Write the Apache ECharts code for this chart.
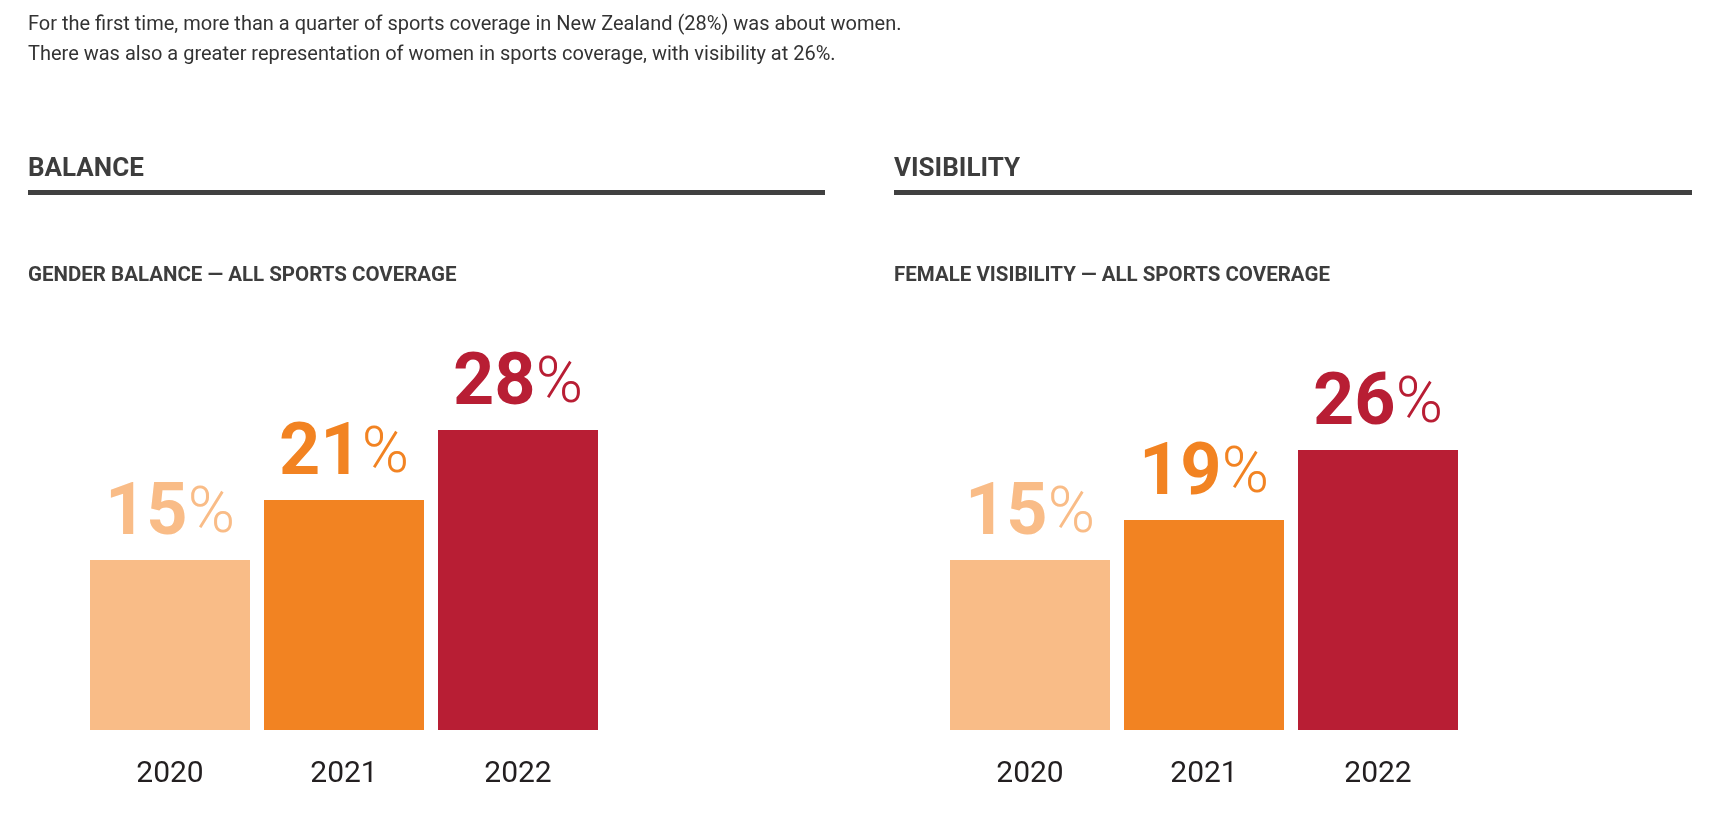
<!DOCTYPE html>
<html>
<head>
<meta charset="utf-8">
<title>Sports coverage</title>
<script src="https://cdn.jsdelivr.net/npm/echarts@6/dist/echarts.min.js"></script>
<style>
	html, body { margin: 0; padding: 0; background: #fff; }
	#chart { width: 1734px; height: 826px; }
</style>
</head>
<body>
<div id="chart"></div>
<script>
/**************************************数据********************************************/
var years = ['2020', '2021', '2022'];
var balanceValues = [15, 21, 28];		//Gender balance
var visibilityValues = [15, 19, 26];	//Female visibility
var barColors = ['#F9BC87', '#F28322', '#B81E34'];
var introText = 'For the first time, more than a quarter of sports coverage in New Zealand (28%) was about women.\nThere was also a greater representation of women in sports coverage, with visibility at 26%.';
/**************************************数据********************************************/

var fontName = 'Roboto';
var chart = echarts.init(document.getElementById('chart'));

//build one bar series with coloured bars + big percent labels
function makeBarSeries(values, idx) {
	var data = [];
	for (var i = 0; i < values.length; i++) {
		data.push({
			value: values[i],
			itemStyle: { color: barColors[i] },
			label: { color: barColors[i] }
		});
	}
	return {
		type: 'bar',
		xAxisIndex: idx,
		yAxisIndex: idx,
		barWidth: 160,
		silent: true,
		label: {
			show: true,
			position: 'top',
			distance: 8,
			formatter: function (p) {
				return '{n|' + p.value + '}{p|%}';
			},
			rich: {
				n: { fontSize: 72, fontWeight: 'bold', fontFamily: fontName, lineHeight: 72 },
				p: { fontSize: 64, fontWeight: 300, fontFamily: fontName, lineHeight: 72 }
			}
		},
		data: data
	};
}

function makeXAxis(idx) {
	return {
		type: 'category',
		gridIndex: idx,
		data: years,
		axisLine: { show: false },
		axisTick: { show: false },
		axisLabel: {
			fontSize: 30,
			fontFamily: fontName,
			color: '#231F20',
			margin: 29
		}
	};
}

function makeYAxis(idx) {
	return {
		type: 'value',
		gridIndex: idx,
		min: -2,
		max: 40,
		startValue: -2,
		show: false,
		splitLine: { show: false }
	};
}

function makeTitle(text, left, top, size, weight, color, lineHeight) {
	return {
		text: text,
		left: left,
		top: top,
		padding: 0,
		textStyle: {
			fontSize: size,
			fontWeight: weight,
			fontFamily: fontName,
			color: color,
			lineHeight: lineHeight
		}
	};
}

var option = {
	backgroundColor: '#ffffff',
	animation: false,
	title: [
		makeTitle(introText, 28, 10, 20, 'normal', '#333333', 30),
		makeTitle('BALANCE', 28, 156, 26, 'bold', '#3d3d3d'),
		makeTitle('VISIBILITY', 894, 156, 26, 'bold', '#3d3d3d'),
		makeTitle('GENDER BALANCE \u2014 ALL SPORTS COVERAGE', 28, 265, 20.5, 'bold', '#3d3d3d'),
		makeTitle('FEMALE VISIBILITY \u2014 ALL SPORTS COVERAGE', 894, 265, 20.5, 'bold', '#3d3d3d')
	],
	graphic: [
		{ type: 'rect', left: 28, top: 190, shape: { width: 797, height: 5 }, style: { fill: '#404040' } },
		{ type: 'rect', left: 894, top: 190, shape: { width: 798, height: 5 }, style: { fill: '#404040' } }
	],
	grid: [
		{ left: 83, top: 310, width: 522, height: 420 },
		{ left: 943, top: 310, width: 522, height: 420 }
	],
	xAxis: [makeXAxis(0), makeXAxis(1)],
	yAxis: [makeYAxis(0), makeYAxis(1)],
	series: [
		makeBarSeries(balanceValues, 0),
		makeBarSeries(visibilityValues, 1)
	]
};
chart.setOption(option);
</script>
</body>
</html>
